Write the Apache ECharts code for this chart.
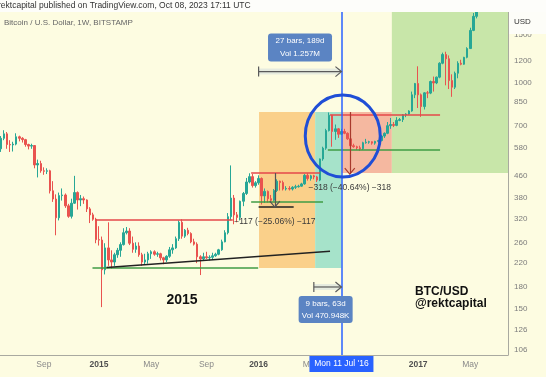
<!DOCTYPE html>
<html>
<head>
<meta charset="utf-8">
<script src="https://cdn.jsdelivr.net/npm/echarts@6/dist/echarts.min.js"></script>
<style>
html, body { margin: 0; padding: 0; background: #fdfce1; }
#main { width: 546px; height: 377px; }
</style>
</head>
<body>
<div id="main"></div>
<script>
// weekly BTC/USD candles (Bitstamp), one per week starting Monday 2014-05-19
var firstWeek = '2014-05-19';
// [open, high, low, close]
var candles = [
  [447, 590, 440, 575], [575, 640, 560, 628], [628, 672, 618, 652], [652, 662, 575, 596],
  [596, 618, 560, 594], [594, 610, 562, 598], [598, 655, 592, 636], [636, 642, 612, 628],
  [628, 634, 606, 621], [621, 625, 585, 596], [596, 600, 572, 588], [588, 600, 575, 591],
  [591, 593, 488, 502], [502, 525, 452, 508], [508, 520, 470, 478], [478, 492, 462, 476],
  [476, 488, 465, 478], [478, 482, 395, 404], [404, 438, 368, 377], [377, 392, 278, 322],
  [322, 398, 315, 388], [388, 412, 372, 390], [390, 395, 350, 356], [356, 362, 322, 326],
  [326, 378, 320, 364], [364, 458, 362, 398], [398, 402, 345, 374], [374, 390, 355, 378],
  [378, 385, 362, 374], [374, 376, 338, 347], [347, 352, 308, 330], [330, 336, 314, 318],
  [318, 322, 260, 268], [268, 300, 255, 267], [267, 275, 152, 208], [208, 260, 200, 250],
  [250, 310, 215, 226], [226, 245, 210, 222], [222, 240, 215, 236], [236, 250, 230, 245],
  [245, 262, 232, 257], [257, 295, 255, 284], [284, 298, 280, 288], [288, 295, 256, 260],
  [260, 275, 240, 247], [247, 262, 240, 254], [254, 262, 232, 236], [236, 240, 215, 222],
  [222, 238, 218, 226], [226, 242, 219, 238], [238, 245, 228, 242], [242, 245, 234, 237],
  [237, 242, 232, 238], [238, 240, 225, 230], [230, 232, 218, 226], [226, 235, 222, 233],
  [233, 252, 230, 246], [246, 258, 238, 250], [250, 275, 248, 270], [270, 315, 265, 310],
  [310, 318, 270, 276], [276, 293, 272, 290], [290, 296, 278, 282], [282, 285, 260, 263],
  [263, 270, 255, 258], [258, 262, 220, 232], [232, 235, 199, 228], [228, 240, 225, 232],
  [232, 242, 228, 230], [230, 235, 225, 231], [231, 240, 226, 234], [234, 240, 232, 237],
  [237, 248, 235, 246], [246, 268, 244, 263], [263, 290, 262, 284], [284, 335, 280, 325],
  [325, 500, 315, 380], [380, 390, 305, 330], [330, 338, 310, 323], [323, 372, 315, 370],
  [370, 400, 355, 395], [395, 450, 390, 435], [435, 468, 430, 455], [455, 465, 415, 422],
  [422, 438, 415, 432], [432, 460, 425, 448], [448, 452, 360, 387], [387, 412, 365, 402],
  [402, 405, 366, 378], [378, 390, 365, 373], [373, 410, 370, 405], [405, 445, 400, 438],
  [438, 440, 405, 433], [433, 440, 405, 410], [410, 420, 405, 412], [412, 420, 405, 410],
  [410, 420, 405, 416], [416, 425, 410, 418], [418, 425, 415, 420], [420, 432, 418, 428],
  [428, 465, 425, 460], [460, 468, 440, 448], [448, 462, 440, 458], [458, 462, 445, 454],
  [454, 458, 435, 442], [442, 530, 438, 528], [528, 585, 520, 578], [578, 680, 570, 670],
  [670, 780, 665, 762], [762, 765, 585, 665], [665, 705, 620, 680], [680, 685, 630, 650],
  [650, 680, 645, 665], [665, 680, 650, 655], [655, 660, 620, 625], [625, 630, 515, 590],
  [590, 600, 580, 585], [585, 590, 570, 580], [580, 590, 565, 575], [575, 610, 570, 605],
  [605, 625, 600, 608], [608, 615, 600, 610], [610, 612, 595, 603], [603, 615, 595, 612],
  [612, 620, 605, 616], [616, 645, 612, 640], [640, 660, 630, 655], [655, 720, 650, 698],
  [698, 745, 680, 705], [705, 720, 690, 700], [700, 750, 695, 730], [730, 745, 725, 735],
  [735, 770, 720, 765], [765, 775, 750, 770], [770, 795, 765, 790], [790, 930, 785, 905],
  [905, 1000, 880, 995], [995, 1150, 810, 905], [905, 915, 752, 820], [820, 925, 800, 920],
  [920, 935, 880, 918], [918, 1020, 910, 1012], [1012, 1055, 930, 1000], [1000, 1055, 990, 1050],
  [1050, 1190, 1040, 1180], [1180, 1290, 1170, 1270], [1270, 1300, 980, 1225], [1225, 1260, 950, 1020],
  [1020, 1075, 890, 965], [965, 1100, 950, 1085], [1085, 1200, 1040, 1180], [1180, 1215, 1160, 1170],
  [1170, 1245, 1165, 1240], [1240, 1350, 1230, 1335], [1335, 1590, 1330, 1555], [1555, 1800, 1545, 1750],
  [1750, 2100, 1720, 2050]
];

var priceTicks = [106, 126, 150, 180, 220, 260, 320, 380, 460, 580, 700, 850, 1000, 1200, 1500];
var timeTicks = ['2014-09-01', '2015-01-05', '2015-05-04', '2015-09-07', '2016-01-04', '2016-05-02', '2017-01-02', '2017-05-01'];
var timeTickLabels = ['Sep', '2015', 'May', 'Sep', '2016', 'May', '2017', 'May'];

// drawings: [fromDate, fromPrice, toDate, toPrice]
var zoneRects = [
  ['2016-01-05', 783, '2016-05-12', 211],
  ['2016-05-12', 783, '2016-07-11', 211],
  ['2016-07-11', 783, '2016-11-03', 469],
  ['2016-11-03', 469, '2017-07-26', 1815]
];
var zoneColors = ['#fad08a', '#a6e3ca', '#f5b8a0', '#c8e6a9'];

var redLines = [
  ['2014-12-27', 316, '2015-11-06', 316],
  ['2015-12-18', 469, '2016-05-23', 469],
  ['2016-06-15', 763, '2017-02-21', 763]
];
var greenLines = [
  ['2014-12-21', 211, '2016-01-03', 211],
  ['2015-12-18', 369, '2016-05-30', 369],
  ['2016-06-10', 569, '2017-02-21', 569]
];
var blackLines = [
  ['2015-01-22', 212, '2016-06-15', 243],
  ['2016-01-04', 352, '2016-03-24', 352]
];
var cursorDate = '2016-07-11';

var dateRanges = [
  { from: '2016-01-04', to: '2016-07-11', price: 1100, text: ['27 bars, 189d', 'Vol 1.257M'] },
  { from: '2016-05-09', to: '2016-07-11', price: 180, text: ['9 bars, 63d', 'Vol 470.948K'] }
];
var priceRanges = [
  { date: '2016-02-10', from: 469, to: 352, text: '\u2212117 (\u221225.06%) \u2212117' },
  { date: '2016-07-30', from: 783, to: 465, text: '\u2212318 (\u221240.64%) \u2212318' }
];
var circleCenter = ['2016-07-14', 640];

var DAY = 86400000;
function day(s) { return Date.parse(s + 'T00:00:00Z'); }
function lg(p) { return Math.log10(p); }
var FONT = "'Liberation Sans', Arial, sans-serif";

var t0 = day(firstWeek);
var candleData = candles.map(function (c, i) {
  return [t0 + i * 7 * DAY, lg(c[0]), lg(c[3]), lg(c[2]), lg(c[1])];
});
var tickTimes = timeTicks.map(day);

function seg(r, color, width) {
  return [
    { coord: [day(r[0]), lg(r[1])], lineStyle: { color: color, width: width, type: 'solid' } },
    { coord: [day(r[2]), lg(r[3])] }
  ];
}

var lineSegs = [];
redLines.forEach(function (r) { lineSegs.push(seg(r, '#e5484a', 1.5)); });
greenLines.forEach(function (r) { lineSegs.push(seg(r, '#3f9c45', 1.5)); });
blackLines.forEach(function (r) { lineSegs.push(seg(r, '#222222', 1.5)); });
priceRanges.forEach(function (p, i) {
  lineSegs.push(seg([p.date, p.from, p.date, p.to], i ? '#a8392c' : '#555555', 1.2));
});

var chart = echarts.init(document.getElementById('main'));
chart.setOption({
  animation: false,
  backgroundColor: '#fdfce1',
  textStyle: { fontFamily: FONT },
  grid: { left: 0, right: 38, top: 12, bottom: 22 },
  xAxis: {
    type: 'value',
    min: day('2014-05-24'),
    max: day('2017-07-26'),
    axisLine: { lineStyle: { color: '#a9a9a0', width: 1 } },
    axisTick: { show: false },
    splitLine: { show: false },
    axisLabel: {
      customValues: tickTimes,
      margin: 5,
      fontSize: 8.5,
      formatter: function (v) {
        var i = tickTimes.indexOf(v);
        var s = i >= 0 ? timeTickLabels[i] : '';
        return /^\d+$/.test(s) ? '{yr|' + s + '}' : '{mo|' + s + '}';
      },
      rich: {
        yr: { fontSize: 8.5, fontWeight: 'bold', color: '#505050', fontFamily: FONT },
        mo: { fontSize: 8.5, color: '#8a8a8a', fontFamily: FONT }
      }
    }
  },
  yAxis: {
    type: 'value',
    position: 'right',
    min: lg(101.64),
    max: lg(1815),
    axisLine: { show: true, lineStyle: { color: '#a9a9a0', width: 1 } },
    axisTick: { show: false },
    splitLine: { show: false },
    axisLabel: {
      customValues: priceTicks.map(lg),
      margin: 6,
      fontSize: 8,
      color: '#7c7c7c',
      formatter: function (v) { return String(Math.round(Math.pow(10, v))); }
    }
  },
  series: [
    {
      type: 'line',
      data: [],
      z: 1,
      markArea: {
        silent: true,
        data: zoneRects.map(function (r, i) {
          return [
            { xAxis: day(r[0]), yAxis: lg(r[1]), itemStyle: { color: zoneColors[i] } },
            { xAxis: day(r[2]), yAxis: lg(r[3]) }
          ];
        })
      }
    },
    {
      type: 'candlestick',
      z: 3,
      barWidth: 2,
      encode: { x: 0, y: [1, 2, 3, 4] },
      data: candleData,
      itemStyle: {
        color: '#27a796',
        color0: '#e9534f',
        borderColor: '#27a796',
        borderColor0: '#e9534f',
        borderWidth: 1
      }
    },
    {
      type: 'line',
      data: [],
      z: 5,
      markLine: {
        silent: true,
        symbol: ['none', 'none'],
        label: { show: false },
        data: lineSegs.concat([
          { xAxis: day(cursorDate), lineStyle: { color: '#2962ff', width: 1.5, type: 'solid' } }
        ])
      }
    }
  ]
});

function px(d, p) { return chart.convertToPixel({ gridIndex: 0 }, [day(d), lg(p)]); }

var g = [];
// date range tools
dateRanges.forEach(function (r, i) {
  var a = px(r.from, r.price), b = px(r.to, r.price);
  var y = a[1], cx = (a[0] + b[0]) / 2;
  g.push({ type: 'rect', z: 8, shape: { x: a[0], y: y - 3, width: b[0] - a[0], height: 6 },
    style: { fill: 'rgba(110,150,215,0.16)' } });
  g.push({ type: 'polyline', z: 9, shape: { points: [[a[0], y], [b[0], y]] }, style: { stroke: '#5a5a5a', lineWidth: 1.2, fill: null } });
  g.push({ type: 'polyline', z: 9, shape: { points: [[a[0], y - 5], [a[0], y + 5]] }, style: { stroke: '#5a5a5a', lineWidth: 1.2, fill: null } });
  g.push({ type: 'polyline', z: 9, shape: { points: [[b[0] - 6, y - 5], [b[0], y], [b[0] - 6, y + 5]] }, style: { stroke: '#5a5a5a', lineWidth: 1.2, fill: null } });
  var w = i ? 54 : 64, h = i ? 27 : 28;
  var by = i ? y + 9 : y - 38;
  var bx = i ? cx - 2 - w / 2 : cx - w / 2;
  g.push({ type: 'rect', z: 10, shape: { x: bx, y: by, width: w, height: h, r: 3 }, style: { fill: '#5b84c3' } });
  g.push({ type: 'text', z: 11, style: { text: r.text[0], x: bx + w / 2, y: by + 7.5, fill: '#ffffff', fontSize: 8, fontFamily: FONT, align: 'center', verticalAlign: 'middle' } });
  g.push({ type: 'text', z: 11, style: { text: r.text[1], x: bx + w / 2, y: by + 20, fill: '#ffffff', fontSize: 8, fontFamily: FONT, align: 'center', verticalAlign: 'middle' } });
});
// price range arrowheads and labels
priceRanges.forEach(function (p, i) {
  var e = px(p.date, p.to);
  var col = i ? '#a8392c' : '#555555';
  g.push({ type: 'polyline', z: 9, shape: { points: [[e[0] - 5, e[1] - 6], [e[0], e[1]], [e[0] + 5, e[1] - 6]] }, style: { stroke: col, lineWidth: 1.2, fill: null } });
  g.push({ type: 'text', z: 11, style: { text: p.text, x: e[0], y: e[1] + 14, fill: '#3a3a3a', fontSize: 8.5, fontFamily: FONT, align: 'center', verticalAlign: 'middle' } });
});
// hand drawn circle
var cc = px(circleCenter[0], circleCenter[1]);
g.push({ type: 'ellipse', z: 12, shape: { cx: cc[0], cy: cc[1], rx: 37.5, ry: 41 }, style: { stroke: '#1f4ed6', lineWidth: 3, fill: null } });
// cursor date label on the time axis
var cx0 = px(cursorDate, 500)[0];
g.push({ type: 'rect', z: 12, shape: { x: cx0 - 32, y: 356, width: 64, height: 16 }, style: { fill: '#2962ff' } });
g.push({ type: 'text', z: 13, style: { text: "Mon 11 Jul '16", x: cx0, y: 364, fill: '#ffffff', fontSize: 8.5, fontFamily: FONT, align: 'center', verticalAlign: 'middle' } });
// header, title and notes
g.push({ type: 'rect', z: 20, shape: { x: 0, y: 0, width: 546, height: 12 }, style: { fill: '#fdfdfa' } });
g.push({ type: 'text', z: 21, style: { text: 'rektcapital published on TradingView.com, Oct 08, 2023 17:11 UTC', x: -2, y: 6, fill: '#333333', fontSize: 8.5, fontFamily: FONT, verticalAlign: 'middle' } });
g.push({ type: 'rect', z: 20, shape: { x: 509, y: 12, width: 37, height: 22 }, style: { fill: '#fdfdf8' } });
g.push({ type: 'text', z: 21, style: { text: 'USD', x: 514, y: 22, fill: '#333333', fontSize: 8, fontFamily: FONT, verticalAlign: 'middle' } });
g.push({ type: 'text', z: 21, style: { text: 'Bitcoin / U.S. Dollar, 1W, BITSTAMP', x: 4, y: 23, fill: '#666666', fontSize: 8, fontFamily: FONT, verticalAlign: 'middle' } });
g.push({ type: 'text', z: 21, style: { text: '2015', x: 182, y: 300, fill: '#111111', fontSize: 14, fontWeight: 'bold', fontFamily: FONT, align: 'center', verticalAlign: 'middle' } });
g.push({ type: 'text', z: 21, style: { text: 'BTC/USD', x: 415, y: 292, fill: '#111111', fontSize: 12, fontWeight: 'bold', fontFamily: FONT, verticalAlign: 'middle' } });
g.push({ type: 'text', z: 21, style: { text: '@rektcapital', x: 415, y: 304, fill: '#111111', fontSize: 12, fontWeight: 'bold', fontFamily: FONT, verticalAlign: 'middle' } });

chart.setOption({ graphic: g });
</script>
</body>
</html>
